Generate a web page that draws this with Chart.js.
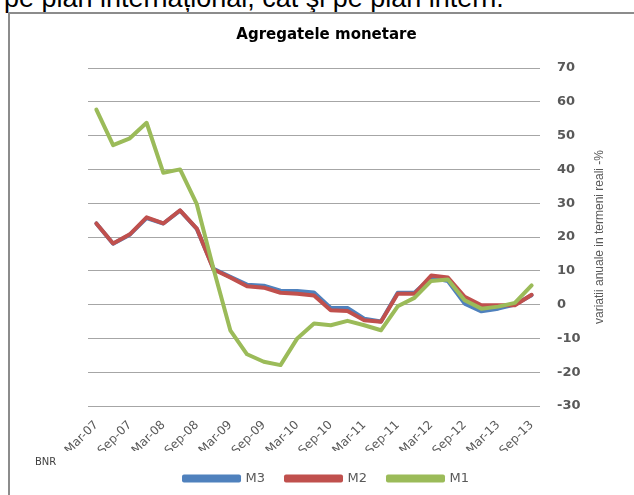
<!DOCTYPE html>
<html>
<head>
<meta charset="utf-8">
<script src="https://cdn.jsdelivr.net/npm/chart.js@4.4.1/dist/chart.umd.min.js"></script>
<style>
    html, body { margin:0; padding:0; background:#fff; overflow:hidden; }
    #page { position:relative; width:634px; height:495px; overflow:hidden; }
    #lead { position:absolute; left:4px; top:-15px; font:27px/27px "Liberation Sans", Arial, sans-serif; color:#000; white-space:nowrap; }
    #wrap { position:absolute; left:0; top:0; width:634px; height:495px; }
</style>
</head>
<body>
<div id="page">
    <div id="lead">pe plan internațional, cât şi pe plan intern.</div>
    <div id="wrap"><canvas id="aggChart"></canvas></div>
</div>
<script>
// quarterly readings, Mar-07 .. Sep-13 (annual real change, %)
const quarters = ['Mar-07','Jun-07','Sep-07','Dec-07','Mar-08','Jun-08','Sep-08','Dec-08',
    'Mar-09','Jun-09','Sep-09','Dec-09','Mar-10','Jun-10','Sep-10','Dec-10',
    'Mar-11','Jun-11','Sep-11','Dec-11','Mar-12','Jun-12','Sep-12','Dec-12',
    'Mar-13','Jun-13','Sep-13'];
const m1 = [57.7, 47.2, 49.2, 53.8, 39.0, 40.0, 29.7, 10.5, -7.6, -14.7, -16.9, -17.9, -10.0, -5.6,
    -6.1, -4.8, -6.1, -7.6, -0.5, 2.0, 7.0, 7.4, 1.3, -1.2, -0.6, 0.5, 5.7];
const m2 = [24.0, 18.1, 20.8, 25.8, 24.0, 27.9, 22.5, 10.4, 8.0, 5.4, 5.0, 3.5, 3.2, 2.7,
    -1.7, -1.9, -4.6, -5.1, 3.2, 3.2, 8.6, 8.0, 2.3, -0.2, -0.2, -0.2, 2.9];
const m3 = [24.0, 18.0, 20.7, 25.6, 24.0, 27.8, 22.4, 10.6, 8.2, 5.9, 5.6, 4.1, 4.0, 3.6,
    -1.0, -1.0, -4.2, -5.0, 3.5, 3.5, 8.0, 7.0, 0.3, -2.0, -1.2, 0.0, 2.8];

const axisTitle = 'variatii anuale in termeni reali -%';
const sourceNote = 'BNR';

const grey = '#595959';

// chart frame (top + left edge only, the rest runs off the page)
const frame = {
    id: 'frame',
    beforeDraw(chart) {
        const {ctx, width, height} = chart;
        ctx.save();
        ctx.strokeStyle = '#8c8c8c';
        ctx.lineWidth = 2;
        ctx.beginPath();
        ctx.moveTo(9, height);
        ctx.lineTo(9, 13);
        ctx.lineTo(width, 13);
        ctx.stroke();
        ctx.restore();
    }
};

// rotated right-hand axis title and the source note
const extras = {
    id: 'extras',
    afterDraw(chart) {
        const {ctx, chartArea} = chart;
        ctx.save();
        ctx.fillStyle = grey;
        ctx.translate(600, (chartArea.top + chartArea.bottom) / 2);
        ctx.rotate(-Math.PI / 2);
        ctx.textAlign = 'center';
        ctx.textBaseline = 'middle';
        ctx.font = '12px "Liberation Sans", sans-serif';
        ctx.fillText(axisTitle, 0, 0);
        ctx.restore();

        ctx.save();
        ctx.fillStyle = '#404040';
        ctx.font = '10px "DejaVu Sans", sans-serif';
        ctx.textBaseline = 'middle';
        ctx.fillText(sourceNote, 35, 462);
        ctx.restore();
    }
};

const line = (label, data, color) => ({
    label, data,
    borderColor: color, backgroundColor: color,
    borderWidth: 4, pointRadius: 0, tension: 0,
    borderJoinStyle: 'round', borderCapStyle: 'round'
});

new Chart(document.getElementById('aggChart'), {
    type: 'line',
    data: {
        labels: quarters,
        // first dataset is painted last, so M1 sits on top
        datasets: [
            line('M1', m1, '#9BBB59'),
            line('M2', m2, '#C0504D'),
            line('M3', m3, '#4F81BD')
        ]
    },
    plugins: [frame, extras],
    options: {
        responsive: true, maintainAspectRatio: false, animation: false,
        layout: { padding: { left: 19, right: 0, top: 0, bottom: 0 } },
        scales: {
            x: {
                offset: true,
                grid: { display: false },
                border: { display: false },
                ticks: {
                    autoSkip: false, minRotation: 45, maxRotation: 45, padding: 4,
                    color: grey, font: { family: 'DejaVu Sans', size: 12 },
                    callback: (v, i) => i % 2 === 0 ? quarters[i] : ''
                },
                afterFit: s => { s.height = 45; }
            },
            y: {
                position: 'right',
                min: -30, max: 70,
                grid: { color: '#a6a6a6', lineWidth: 1, drawTicks: false },
                border: { display: false },
                ticks: {
                    stepSize: 10, padding: 17, color: grey,
                    font: { family: 'DejaVu Sans', size: 13, weight: 'bold' }
                },
                afterFit: s => { s.width = 94; }
            },
            spacer: {
                position: 'left', display: true,
                grid: { display: false }, border: { display: false },
                ticks: { display: false },
                afterFit: s => { s.width = 69; }
            }
        },
        plugins: {
            title: {
                display: true, text: 'Agregatele monetare', color: '#000',
                font: { family: 'DejaVu Sans', size: 15, weight: 'bold' },
                padding: { top: 26, bottom: 24 }
            },
            legend: {
                position: 'bottom', reverse: true,
                labels: {
                    boxWidth: 55, boxHeight: 4, padding: 21, color: grey,
                    font: { family: 'DejaVu Sans', size: 13 }
                }
            },
            tooltip: { enabled: false }
        }
    }
});
</script>
</body>
</html>
